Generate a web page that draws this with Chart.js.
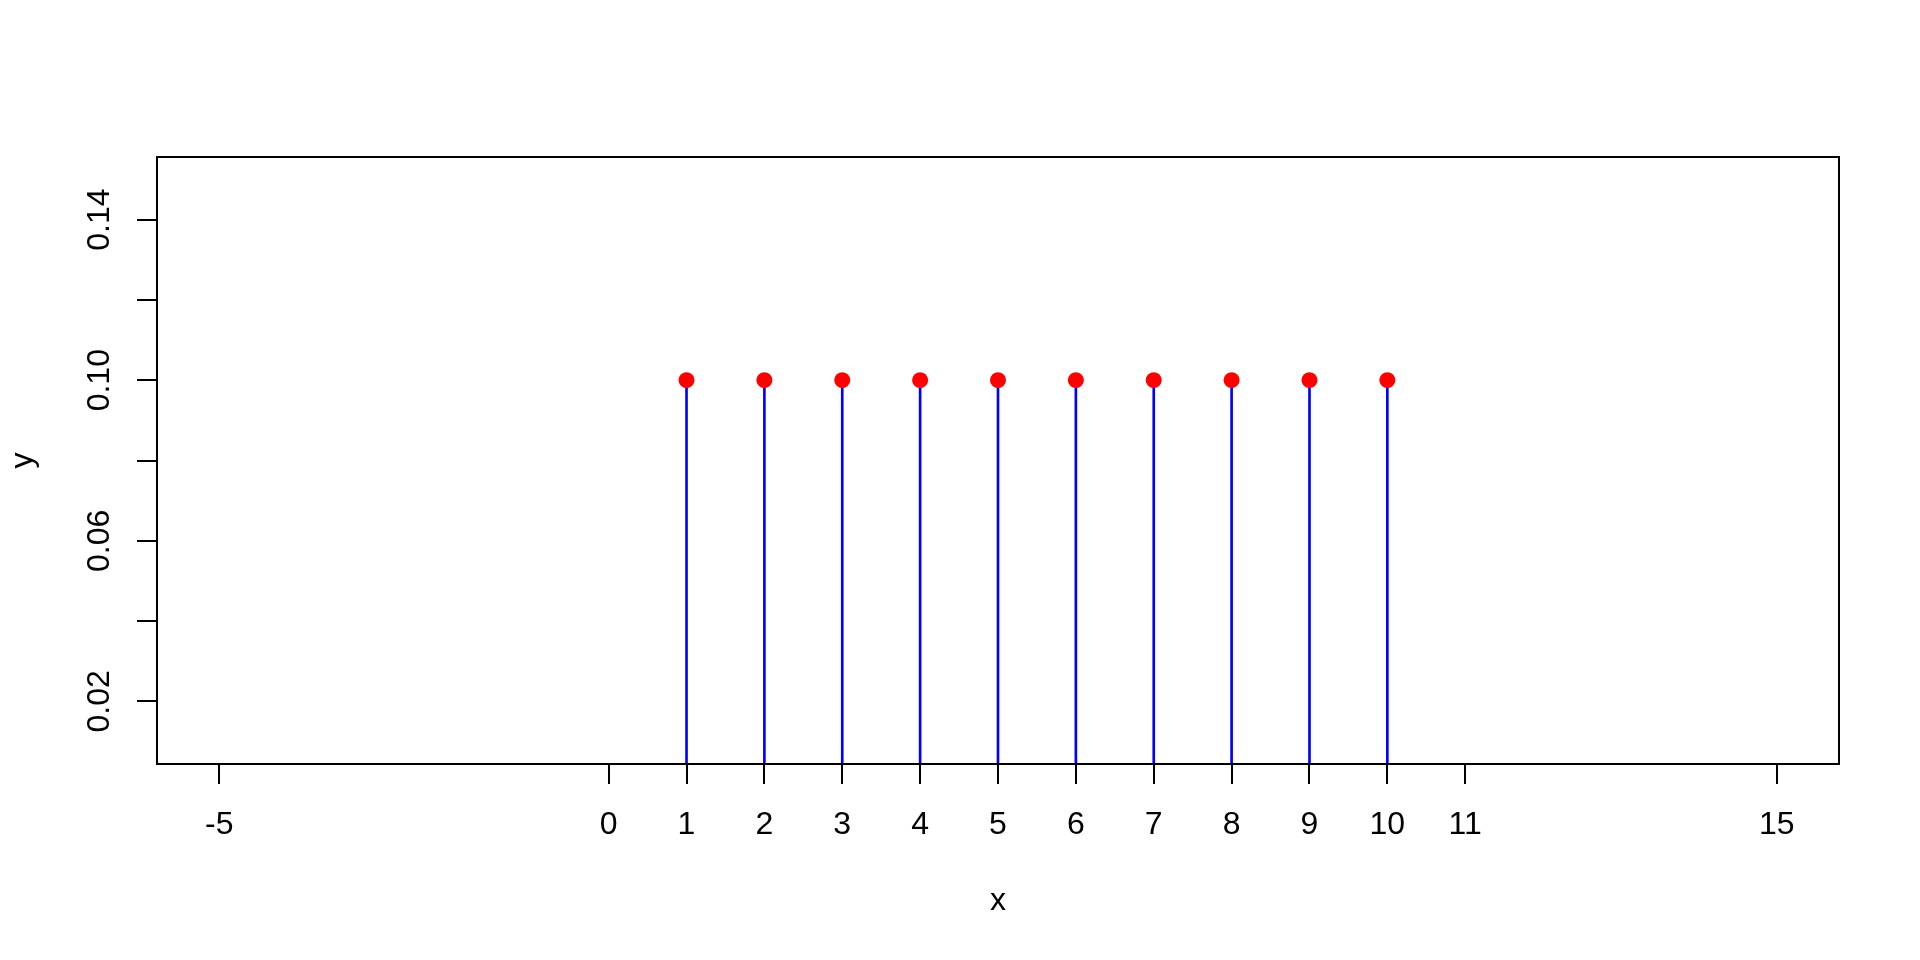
<!DOCTYPE html>
<html>
<head>
<meta charset="utf-8">
<script src="https://cdn.jsdelivr.net/npm/chart.js@4.4.1/dist/chart.umd.min.js"></script>
<style>
  html, body { margin: 0; padding: 0; background: #fff; }
  canvas { display: block; }
</style>
</head>
<body>
<canvas id="plot" width="1920" height="960"></canvas>
<script>
// data
var xValues = [1, 2, 3, 4, 5, 6, 7, 8, 9, 10];
var yValues = [0.1, 0.1, 0.1, 0.1, 0.1, 0.1, 0.1, 0.1, 0.1, 0.1];

// axis ticks (R skips some y labels, tick marks stay)
var xTicks = [-5, 0, 1, 2, 3, 4, 5, 6, 7, 8, 9, 10, 11, 15];
var xTickLabels = ["-5", "0", "1", "2", "3", "4", "5", "6", "7", "8", "9", "10", "11", "15"];
var yTicks = [0.02, 0.04, 0.06, 0.08, 0.10, 0.12, 0.14];
var yTickLabels = ["0.02", "", "0.06", "", "0.10", "", "0.14"];

var points = xValues.map(function (x, i) { return { x: x, y: yValues[i] }; });

Chart.defaults.font.family = '"Liberation Sans", Arial, Helvetica, sans-serif';
Chart.defaults.font.size = 32;
Chart.defaults.color = '#000';

// box round the plot region, like R's box()
var boxPlugin = {
    id: 'box',
    afterDraw: function (chart) {
        var a = chart.chartArea;
        var ctx = chart.ctx;
        ctx.save();
        ctx.strokeStyle = '#000';
        ctx.lineWidth = 2;
        ctx.strokeRect(a.left, a.top, a.right - a.left, a.bottom - a.top);
        ctx.restore();
    }
};

var ctx = document.getElementById("plot");
var myChart = new Chart(ctx, {
    type: 'scatter',
    data: {
        datasets: [{
            type: 'bar',
            data: points,
            backgroundColor: '#0000FF',
            borderWidth: 0,
            barThickness: 2,
            order: 1,
            clip: 0,
        }, {
            type: 'scatter',
            data: points,
            backgroundColor: '#FF0000',
            borderColor: '#FF0000',
            pointRadius: 8,
            borderWidth: 0,
            order: 0,
        }],
    },
    options: {
        responsive: false,
        animation: false,
        layout: {
            padding: { left: 0, top: 157, right: 81, bottom: 0 }
        },
        plugins: {
            legend: { display: false },
            tooltip: { enabled: false },
        },
        scales: {
            x: {
                type: 'linear',
                min: -5.8,
                max: 15.8,
                offset: false,
                grid: {
                    offset: false,
                    drawOnChartArea: false,
                    color: '#000',
                    lineWidth: 2,
                    tickLength: 20,
                },
                border: { display: false },
                afterBuildTicks: function (scale) {
                    scale.ticks = xTicks.map(function (v) { return { value: v }; });
                },
                ticks: {
                    autoSkip: false,
                    maxRotation: 0,
                    padding: 22,
                    callback: function (value) {
                        var i = xTicks.indexOf(value);
                        return i >= 0 ? xTickLabels[i] : '';
                    }
                },
                title: {
                    display: true,
                    text: 'x',
                    padding: { top: 0, bottom: 40 },
                },
                afterFit: function (scale) {
                    scale.height = 196;
                },
            },
            y: {
                type: 'linear',
                min: 0.0044,
                max: 0.1556,
                grid: {
                    drawOnChartArea: false,
                    color: '#000',
                    lineWidth: 2,
                    tickLength: 20,
                },
                border: { display: false },
                afterBuildTicks: function (scale) {
                    scale.ticks = yTicks.map(function (v) { return { value: v }; });
                },
                ticks: {
                    autoSkip: false,
                    minRotation: 90,
                    maxRotation: 90,
                    crossAlign: 'center',
                    padding: 6,
                    callback: function (value) {
                        for (var i = 0; i < yTicks.length; i++) {
                            if (Math.abs(yTicks[i] - value) < 1e-9) return yTickLabels[i];
                        }
                        return '';
                    }
                },
                title: {
                    display: true,
                    text: 'y',
                    padding: { top: 4, bottom: 0 },
                },
                afterFit: function (scale) {
                    scale.width = 157;
                },
            },
        },
    },
    plugins: [boxPlugin],
});
</script>
</body>
</html>
